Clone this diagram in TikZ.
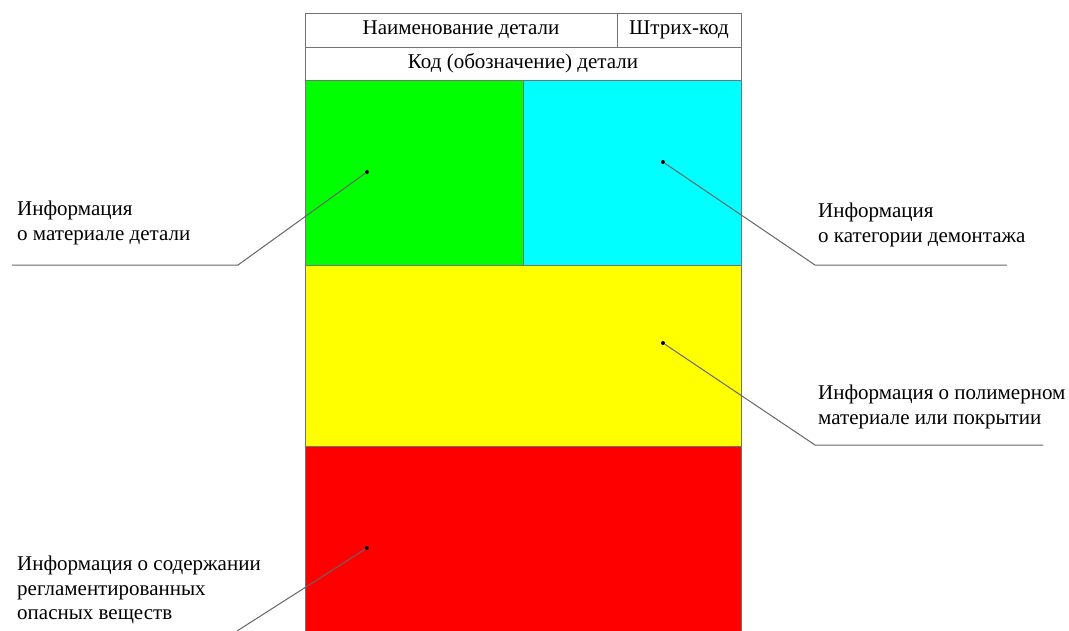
\documentclass[tikz,border=0pt]{standalone}
\usepackage{fontspec}
\setmainfont{Liberation Serif}
\begin{document}
\begin{tikzpicture}[x=1pt,y=-1pt,
  cell/.style={draw=black!55, line width=0.9pt, inner sep=0pt, outer sep=0pt, font=\fontsize{21}{24}\selectfont},
  area/.style={draw=black!55, line width=0.9pt, inner sep=0pt, outer sep=0pt},
  lbl/.style={anchor=north west, align=left, inner sep=0pt, font=\fontsize{21}{24.5}\selectfont},
  leader/.style={draw=black!60, line width=1pt},
  dotmark/.style={circle, fill=black, inner sep=0pt, minimum size=4pt}]
\useasboundingbox (0,0) rectangle (1069,630);
\fill[white] (0,0) rectangle (1069,630);
% header
\node[cell, minimum width=312, minimum height=34] (name) at (461,30) {Наименование детали};
\node[cell, minimum width=124, minimum height=34] (bar) at (679,30) {Штрих-код};
\node[cell, minimum width=436, minimum height=33] (code) at (523,63.5) {Код (обозначение) детали};
% coloured areas
\node[area, fill={rgb,255:red,0;green,255;blue,0}, minimum width=218, minimum height=185] (green) at (414,172.5) {};
\node[area, fill={rgb,255:red,0;green,255;blue,255}, minimum width=218, minimum height=185] (cyan) at (632,172.5) {};
\node[area, fill={rgb,255:red,255;green,255;blue,0}, minimum width=436, minimum height=181] (yellow) at (523,355.5) {};
\node[area, fill={rgb,255:red,255;green,0;blue,0}, minimum width=436, minimum height=200] (red) at (523,546) {};
% dots
\node[dotmark] (dG) at (367,172) {};
\node[dotmark] (dC) at (663,162) {};
\node[dotmark] (dY) at (663,343) {};
\node[dotmark] (dR) at (367,548) {};
% knees and ends
\coordinate (kG) at (238,265);
\coordinate (eG) at (12,265);
\coordinate (kC) at (815,265);
\coordinate (eC) at (1007,265);
\coordinate (kY) at (815,445);
\coordinate (eY) at (1043,445);
\coordinate (kR) at (237,631);
% leaders
\draw[leader] (dG) -- (kG) -- (eG);
\draw[leader] (dC) -- (kC) -- (eC);
\draw[leader] (dY) -- (kY) -- (eY);
\draw[leader] (dR) -- (kR);
% labels
\node[lbl] (tG) at (17,201) {Информация\\о материале детали};
\node[lbl] (tC) at (818,203) {Информация\\о категории демонтажа};
\node[lbl] (tY) at (818,385) {Информация о полимерном\\материале или покрытии};
\node[lbl] (tR) at (17,556) {Информация о содержании\\регламентированных\\опасных веществ};
\end{tikzpicture}
\end{document}
